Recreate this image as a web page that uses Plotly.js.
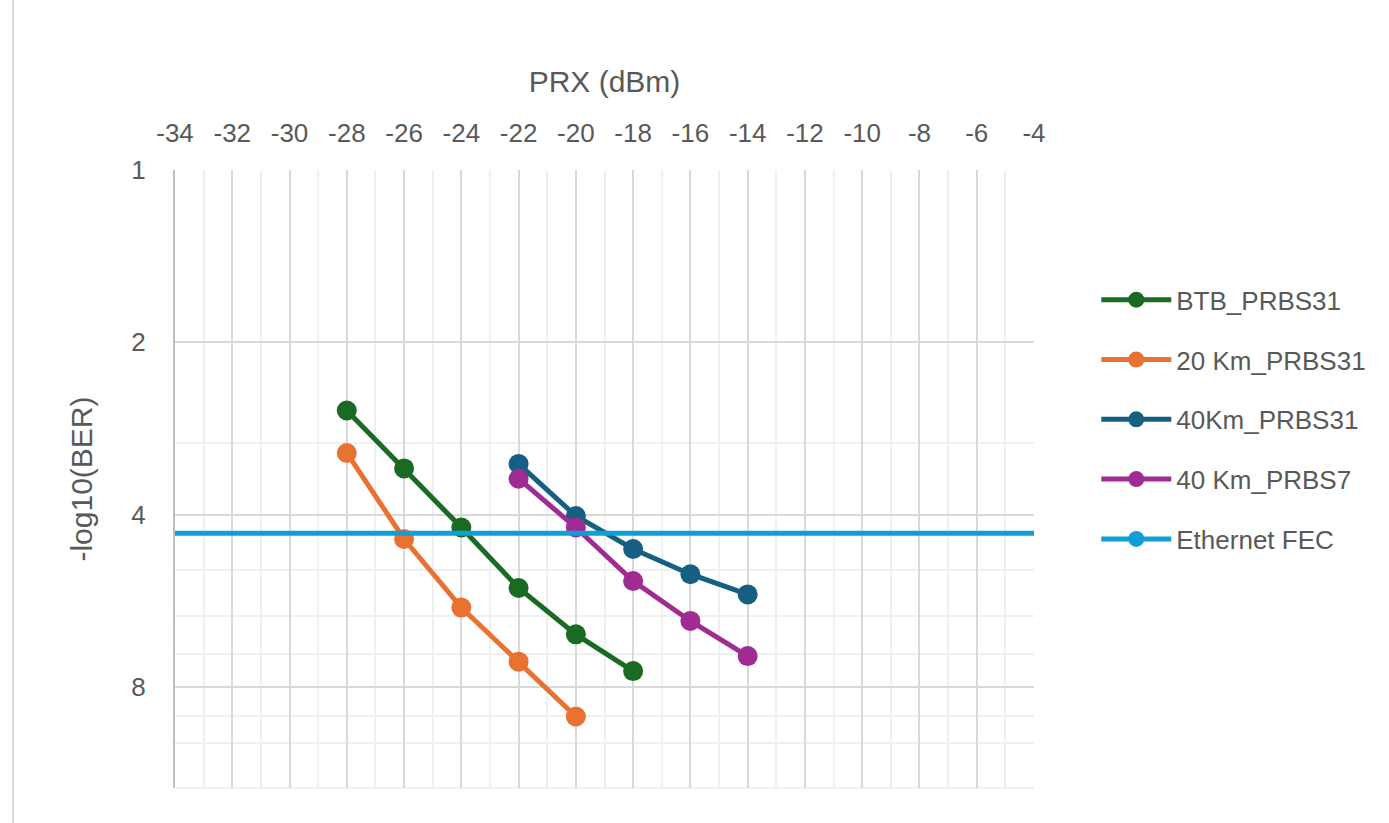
<!DOCTYPE html>
<html>
<head>
<meta charset="utf-8">
<script src="https://cdn.plot.ly/plotly-3.0.1.min.js"></script>
<style>
  html, body { margin: 0; padding: 0; background: #ffffff; }
  #chart { width: 1389px; height: 823px; }
</style>
</head>
<body>
<div id="chart"></div>
<script>
// ---- Data ----
const seriesNames = ["BTB_PRBS31", "20 Km_PRBS31", "40Km_PRBS31", "40 Km_PRBS7", "Ethernet FEC"];

const prxBTB = [-28, -26, -24, -22, -20, -18];
const berBTB = [2.63, 3.32, 4.21, 5.37, 6.47, 7.50];

const prx20km = [-28, -26, -24, -22, -20];
const ber20km = [3.12, 4.41, 5.81, 7.22, 9.00];

const prx40km31 = [-22, -20, -18, -16, -14];
const ber40km31 = [3.26, 4.02, 4.59, 5.08, 5.51];

const prx40km7 = [-22, -20, -18, -16, -14];
const ber40km7 = [3.46, 4.21, 5.22, 6.13, 7.06];

// FEC threshold line runs past both ends of the x axis
const prxFEC = [-36, -2];
const berFEC = [4.31, 4.31];

const xTickVals = [-34, -32, -30, -28, -26, -24, -22, -20, -18, -16, -14, -12, -10, -8, -6, -4];
const xTickText = ["-34", "-32", "-30", "-28", "-26", "-24", "-22", "-20", "-18", "-16", "-14", "-12", "-10", "-8", "-6", "-4"];
const yTickVals = [1, 2, 4, 8];
const yTickText = ["1", "2", "4", "8"];
const yMinorVals = [3, 5, 6, 7, 9, 10];

const colors = ["#196B24", "#E97132", "#156082", "#A02B93", "#0F9ED5"];

// ---- Traces ----
const xs = [prxBTB, prx20km, prx40km31, prx40km7, prxFEC];
const ys = [berBTB, ber20km, ber40km31, ber40km7, berFEC];

const traces = seriesNames.map((name, i) => ({
  type: "scatter",
  mode: "lines+markers",
  name: name,
  legendgroup: "g" + i,
  x: xs[i],
  y: ys[i],
  line: { color: colors[i], width: 5 },
  marker: { color: colors[i], size: 20, symbol: "circle" },
  cliponaxis: true
}));

const FONT = "Liberation Sans, Arial, sans-serif";
const TXT = "#595959";

const layout = {
  width: 1389,
  height: 823,
  paper_bgcolor: "#ffffff",
  plot_bgcolor: "#ffffff",
  margin: { l: 175, r: 355, t: 170, b: 35 },
  font: { family: FONT, color: TXT, size: 24 },
  showlegend: true,
  legend: {
    x: 1.0725, xanchor: "left",
    y: 0.828, yanchor: "top",
    font: { family: FONT, size: 26, color: TXT },
    tracegroupgap: 23,
    itemwidth: 70,
    bgcolor: "rgba(0,0,0,0)"
  },
  xaxis: {
    side: "top",
    range: [-34, -4],
    tickmode: "array",
    tickvals: xTickVals,
    ticktext: xTickText,
    ticks: "",
    ticklabelstandoff: 22,
    tickfont: { family: FONT, size: 26, color: TXT },
    showgrid: true,
    gridcolor: "#d9d9d9",
    gridwidth: 1.5,
    zeroline: false,
    showline: false,
    minor: { dtick: 1, tick0: -34, showgrid: true, gridcolor: "#f0f0f0", gridwidth: 1.5, ticks: "" },
    title: { text: "PRX (dBm)", font: { family: FONT, size: 30, color: TXT }, standoff: 16 }
  },
  yaxis: {
    type: "log",
    range: [Math.log10(12), 0],
    tickmode: "array",
    tickvals: yTickVals,
    ticktext: yTickText,
    ticks: "",
    ticklabelstandoff: 22,
    tickfont: { family: FONT, size: 26, color: TXT },
    showgrid: true,
    gridcolor: "#d9d9d9",
    gridwidth: 1.5,
    zeroline: false,
    showline: true,
    linecolor: "#bfbfbf",
    linewidth: 2,
    minor: { tickmode: "array", tickvals: yMinorVals, showgrid: true, gridcolor: "#f0f0f0", gridwidth: 1.5, ticks: "" },
    title: { text: "-log10(BER)", font: { family: FONT, size: 30, color: TXT }, standoff: 30 }
  },
  shapes: [
    {
      type: "line", xref: "paper", yref: "paper",
      x0: -0.1886, x1: -0.1886, y0: -0.1, y1: 1.5,
      line: { color: "#d9d9d9", width: 2 }
    },
    {
      type: "line", xref: "paper", yref: "paper",
      x0: 0, x1: 1, y0: 0, y1: 0,
      line: { color: "#f0f0f0", width: 2 }, layer: "below"
    }
  ]
};

Plotly.newPlot("chart", traces, layout, { displayModeBar: false, responsive: false });
</script>
</body>
</html>
